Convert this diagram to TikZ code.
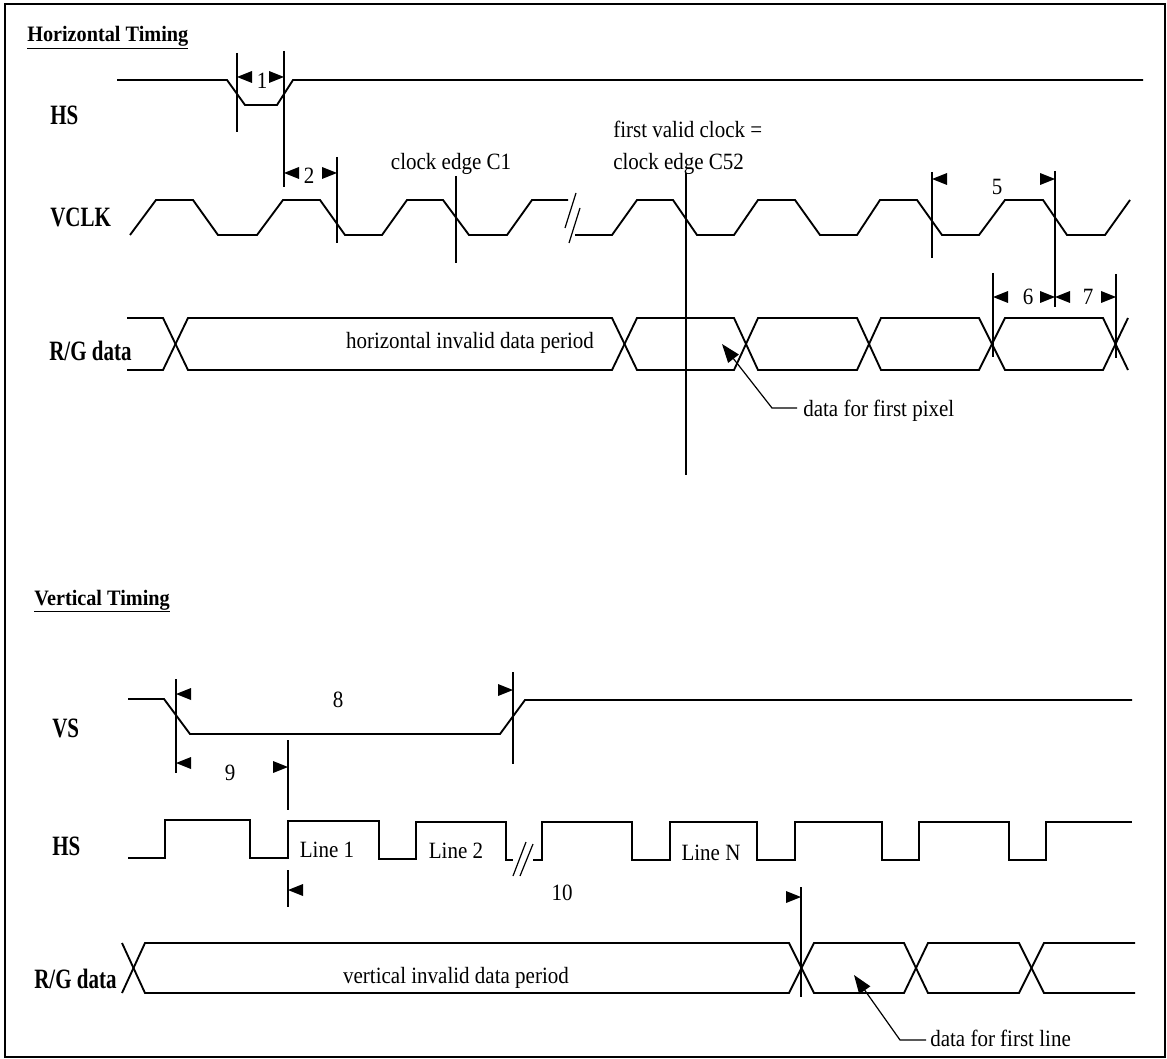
\documentclass[tikz,border=0pt]{standalone}
\usepackage{fontspec}
\setmainfont{Liberation Serif}
\newfontfamily\txtfont[FakeStretch=0.9]{Liberation Serif}
\newfontfamily\ttlfont[FakeStretch=0.92]{Liberation Serif Bold}
\newfontfamily\lblfont[FakeStretch=0.75]{Liberation Serif Bold}
\usetikzlibrary{arrows.meta}
\begin{document}
\begin{tikzpicture}[x=0.75pt,y=-0.75pt,
  wave/.style={line width=1.4pt, line join=miter},
  dim/.style={line width=0.9pt},
  txt/.style={inner sep=0pt, anchor=base, font=\txtfont\fontsize{17.5}{20}\selectfont},
  lbl/.style={inner sep=0pt, anchor=base west, font=\lblfont\fontsize{21}{24}\selectfont},
  ttl/.style={inner sep=0pt, anchor=base west, font=\ttlfont\fontsize{16.5}{20}\selectfont},
  ptr/.style={dim, -{Triangle[length=14pt,width=10pt]}},
  ltri/.pic={\fill (0,0) -- (15,-6) -- (15,6) -- cycle;},
  rtri/.pic={\fill (0,0) -- (-15,-6) -- (-15,6) -- cycle;}]
\useasboundingbox (0,0) rectangle (1167,1059);
\draw[line width=1.5pt] (5,4) rectangle (1165,1057);

% ---------------- Horizontal timing ----------------
\node[ttl] (th) at (27,42) {\underline{Horizontal Timing}};
\node[lbl] (lhs) at (50,125) {HS};
\node[lbl] (lvclk) at (50,227) {VCLK};
\node[lbl] (lrg) at (49,360) {R/G data};

% HS
\draw[wave] (117,80) -- (227,80) -- (245,105) -- (277,105) -- (293,80) -- (1143,80);

% VCLK
\draw[wave] (130,235) -- (156,200) -- (193,200) -- (218,235) -- (257,235) -- (283,200) -- (320,200) -- (345,235) -- (382,235) -- (407,200) -- (443,200) -- (469,235) -- (507,235) -- (532,200) -- (568,200);
\draw[wave] (575,235) -- (612,235) -- (637,200) -- (673,200) -- (697,235) -- (734,235) -- (758,200) -- (795,200) -- (820,235) -- (857,235) -- (880,200) -- (917,200) -- (942,235) -- (979,235) -- (1005,200) -- (1043,200) -- (1067,235) -- (1105,235) -- (1130,200);
\draw[dim] (576,193) -- (565,228);
\draw[dim] (580,208) -- (569,243);

% R/G data (horizontal)
\draw[wave] (127,318) -- (163,318) -- (188,370) -- (612,370) -- (637,318) -- (734,318) -- (758,370) -- (857,370) -- (881,318) -- (979,318) -- (1005,370) -- (1103,370) -- (1128,318);
\draw[wave] (127,370) -- (163,370) -- (188,318) -- (612,318) -- (637,370) -- (734,370) -- (758,318) -- (857,318) -- (881,370) -- (979,370) -- (1005,318) -- (1103,318) -- (1128,370);
\node[txt] (thid) at (470,349) {horizontal invalid data period};

% dimension 1
\draw[dim] (237,53) -- (237,132);
\draw[dim] (284,51) -- (284,187);
\pic at (237,77) {ltri};
\pic at (284,77) {rtri};
\node[txt] (d1) at (262,89) {1};
% dimension 2
\draw[dim] (337,157) -- (337,243);
\pic at (284,173) {ltri};
\pic at (337,173) {rtri};
\node[txt] (d2) at (309,184) {2};
% clock edge C1
\draw[dim] (456,176) -- (456,263);
\node[txt] (tc1) at (451,170) {clock edge C1};
% first valid clock
\draw[dim] (686,173) -- (686,475);
\node[txt, anchor=base west] (tfv) at (613,138) {first valid clock =};
\node[txt, anchor=base west] (tc52) at (613,170) {clock edge C52};
% dimension 5
\draw[dim] (932,172) -- (932,258);
\draw[dim] (1055,171) -- (1055,307);
\pic at (932,179) {ltri};
\pic at (1055,179) {rtri};
\node[txt] (d5) at (997,195) {5};
% dimension 6, 7
\draw[dim] (993,273) -- (993,357);
\draw[dim] (1116,274) -- (1116,358);
\pic at (993,297) {ltri};
\pic at (1055,297) {rtri};
\pic at (1055,297) {ltri};
\pic at (1116,297) {rtri};
\node[txt] (d6) at (1028,305) {6};
\node[txt] (d7) at (1088,305) {7};
% data for first pixel
\node[txt, anchor=base west] (tdp) at (803,416) {data for first pixel};
\coordinate (dpS) at (797,408);
\coordinate (dpB) at (772,408);
\coordinate (dpT) at (722,344);
\draw[ptr] (dpS) -- (dpB) -- (dpT);

% ---------------- Vertical timing ----------------
\node[ttl] (tv) at (34,605) {\underline{Vertical Timing}};
\node[lbl] (lvs) at (52,737) {VS};
\node[lbl] (lhs2) at (52,855) {HS};
\node[lbl] (lrg2) at (34,988) {R/G data};

% VS
\draw[wave] (128,699) -- (164,699) -- (190,734) -- (500,734) -- (525,700) -- (1132,700);

% HS (vertical)
\draw[wave] (128,858) -- (165,858) -- (165,820) -- (250,820) -- (250,858) -- (288,858) -- (288,821) -- (379,821) -- (379,859) -- (416,859) -- (416,822) -- (506,822) -- (506,860) -- (513,860);
\draw[wave] (533,860) -- (542,860) -- (542,822) -- (632,822) -- (632,860) -- (670,860) -- (670,822) -- (757,822) -- (757,860) -- (795,860) -- (795,822) -- (882,822) -- (882,860) -- (919,860) -- (919,822) -- (1009,822) -- (1009,860) -- (1046,860) -- (1046,822) -- (1132,822);
\draw[dim] (513,876) -- (526,842);
\draw[dim] (520,876) -- (533,844);
\node[txt] (tl1) at (327,857) {Line 1};
\node[txt] (tl2) at (456,858) {Line 2};
\node[txt] (tln) at (711,860) {Line N};

% R/G data (vertical)
\draw[wave] (122,943) -- (145,993) -- (789,993) -- (814,943) -- (904,943) -- (928,993) -- (1019,993) -- (1044,943) -- (1135,943);
\draw[wave] (122,993) -- (145,943) -- (789,943) -- (814,993) -- (904,993) -- (928,943) -- (1019,943) -- (1044,993) -- (1135,993);
\node[txt] (tvid) at (456,983) {vertical invalid data period};

% dimension 8, 9
\draw[dim] (176,679) -- (176,773);
\draw[dim] (513,672) -- (513,764);
\pic at (176,694) {ltri};
\pic at (513,690) {rtri};
\node[txt] (d8) at (338,707) {8};
\pic at (176,763) {ltri};
\pic at (288,767) {rtri};
\node[txt] (d9) at (230,780) {9};
\draw[dim] (288,740) -- (288,810);
% dimension 10
\draw[dim] (288,870) -- (288,907);
\pic at (288,890) {ltri};
\draw[dim] (801,887) -- (801,997);
\pic at (801,897) {rtri};
\node[txt] (d10) at (562,900) {10};
% data for first line
\node[txt, anchor=base west] (tdl) at (930,1046) {data for first line};
\coordinate (dlS) at (926,1040);
\coordinate (dlB) at (900,1040);
\coordinate (dlT) at (854,975);
\draw[ptr] (dlS) -- (dlB) -- (dlT);
\end{tikzpicture}
\end{document}
